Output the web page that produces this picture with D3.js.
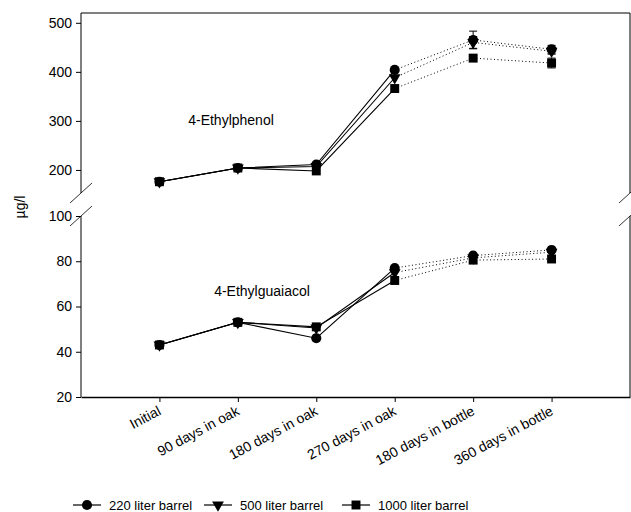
<!DOCTYPE html>
<html>
<head>
<meta charset="utf-8">
<script src="https://cdn.jsdelivr.net/npm/d3@7"></script>
<style>
    body { margin: 0; background: #fff; }
    svg { font-family: "Liberation Sans", Arial, sans-serif; }
    .axis text { font-size: 14px; fill: #000; }
    .axis path, .axis line { stroke: #000; }
</style>
</head>
<body>
<div id="chart"></div>
<script>
// categories on the x axis
const stages = ['Initial', '90 days in oak', '180 days in oak', '270 days in oak', '180 days in bottle', '360 days in bottle'];
const barrels = ['220 liter barrel', '500 liter barrel', '1000 liter barrel'];

// 4-Ethylphenol (µg/l), one array per barrel size
const phenol220 = [176, 204, 211, 404, 465, 446];
const phenol500 = [176, 204, 207, 388, 460, 442];
const phenol1000 = [176, 204, 198, 366, 428, 418];
const phenolErr220 = [0, 0, 0, 0, 18, 8];
const phenolErr500 = [0, 0, 0, 0, 12, 6];
const phenolErr1000 = [0, 0, 0, 0, 6, 10];

// 4-Ethylguaiacol (µg/l)
const guaiacol220 = [43, 53, 46, 77, 82.5, 85];
const guaiacol500 = [43, 53, 50.5, 75, 81.5, 84];
const guaiacol1000 = [43, 53, 51, 71.5, 80.5, 81];

const topTicks = [200, 300, 400, 500];
const bottomTicks = [20, 40, 60, 80, 100];

const width = 631, height = 512;
const left = 81, right = 630;

const svg = d3.select('#chart').append('svg')
    .attr('width', width)
    .attr('height', height);

const xScale = d3.scaleLinear()
    .domain([-1, stages.length])
    .range([left, right]);

// broken y axis: two panels
const yTop = d3.scaleLinear().domain([153, 520]).range([193, 13]);
const yBottom = d3.scaleLinear().domain([20, 100]).range([397, 216]);

const symbols = [d3.symbolCircle, d3.symbolTriangle, d3.symbolSquare];
const symbolSizes = [80, 60, 80];

// frame: top line, sides with gap at the break, bottom axis
svg.append('line').attr('x1', left).attr('x2', right).attr('y1', 13).attr('y2', 13).attr('stroke', '#000');
[left, right].forEach(x => {
    svg.append('line').attr('x1', x).attr('x2', x).attr('y1', 13).attr('y2', 193).attr('stroke', '#000');
    svg.append('line').attr('x1', x).attr('x2', x).attr('y1', 216).attr('y2', 397).attr('stroke', '#000');
    // break marks
    [193, 216].forEach(y => {
        svg.append('line')
            .attr('x1', x - 11).attr('y1', y + 10)
            .attr('x2', x + 11).attr('y2', y - 10)
            .attr('stroke', '#000').attr('stroke-width', 0.8);
    });
});

// y axes
const yAxisTop = d3.axisLeft(yTop).tickValues(topTicks).tickSize(5).tickPadding(4).tickSizeOuter(0);
const yAxisBottom = d3.axisLeft(yBottom).tickValues(bottomTicks).tickSize(5).tickPadding(4).tickSizeOuter(0);

svg.append('g').attr('class', 'axis')
    .attr('transform', `translate(${left},0)`)
    .call(yAxisTop)
    .call(g => g.select('.domain').remove());

svg.append('g').attr('class', 'axis')
    .attr('transform', `translate(${left},0)`)
    .call(yAxisBottom)
    .call(g => g.select('.domain').remove());

// x axis
const xAxis = d3.axisBottom(xScale)
    .tickValues(d3.range(stages.length))
    .tickFormat(i => stages[i])
    .tickSize(5)
    .tickSizeOuter(0);

svg.append('g').attr('class', 'axis')
    .attr('transform', 'translate(0,397)')
    .call(xAxis)
    .call(g => g.select('.domain').attr('stroke-width', 1.5))
    .call(g => g.selectAll('.tick line').attr('stroke', '#666'))
    .selectAll('text')
    .attr('text-anchor', 'end')
    .attr('x', 0)
    .attr('y', 0)
    .attr('dy', 0)
    .attr('transform', 'translate(2,17) rotate(-28)');

// y axis title
svg.append('text')
    .attr('transform', 'translate(25,207) rotate(-90)')
    .attr('text-anchor', 'middle')
    .style('font-size', '14px')
    .text('µg/l');

// panel labels
svg.append('text').attr('x', 231).attr('y', 125).attr('text-anchor', 'middle')
    .style('font-size', '14px').text('4-Ethylphenol');
svg.append('text').attr('x', 262).attr('y', 296).attr('text-anchor', 'middle')
    .style('font-size', '14px').text('4-Ethylguaiacol');

function drawSeries(values, errs, y, k) {
    const pts = values.map((v, i) => ({i: i, v: v, e: errs ? errs[i] : 0}));
    const line = d3.line().x(d => xScale(d.i)).y(d => y(d.v));

    // solid while in oak, dotted once bottled
    svg.append('path')
        .datum(pts.slice(0, 4))
        .attr('d', line)
        .attr('fill', 'none')
        .attr('stroke', '#000')
        .attr('stroke-width', 1.1);
    svg.append('path')
        .datum(pts.slice(3))
        .attr('d', line)
        .attr('fill', 'none')
        .attr('stroke', '#000')
        .attr('stroke-width', 1)
        .attr('stroke-dasharray', '1,2.5');

    // error bars
    svg.append('g').selectAll('line')
        .data(pts.filter(d => d.e > 0))
        .join('line')
        .attr('x1', d => xScale(d.i)).attr('x2', d => xScale(d.i))
        .attr('y1', d => y(d.v - d.e)).attr('y2', d => y(d.v + d.e))
        .attr('stroke', '#000');
    svg.append('g').selectAll('path')
        .data(pts.filter(d => d.e > 0).flatMap(d => [d.v - d.e, d.v + d.e].map(w => ({i: d.i, w: w}))))
        .join('path')
        .attr('d', d => `M${xScale(d.i) - 4},${y(d.w)}h8`)
        .attr('stroke', '#000');

    svg.append('g').selectAll('path')
        .data(pts)
        .join('path')
        .attr('transform', d => `translate(${xScale(d.i)},${y(d.v)})` + (k === 1 ? ' rotate(180)' : ''))
        .attr('d', d3.symbol().type(symbols[k]).size(symbolSizes[k]))
        .attr('fill', '#000');
}

[[phenol1000, phenolErr1000], [phenol500, phenolErr500], [phenol220, phenolErr220]]
    .forEach((s, j) => drawSeries(s[0], s[1], yTop, 2 - j));
[guaiacol1000, guaiacol500, guaiacol220]
    .forEach((s, j) => drawSeries(s, null, yBottom, 2 - j));

// legend
const legendX = [73, 204, 342];
const legend = svg.append('g').selectAll('g')
    .data(barrels)
    .join('g')
    .attr('transform', (d, i) => `translate(${legendX[i]},505)`);

legend.append('line').attr('x1', 0).attr('x2', 28).attr('stroke', '#000').attr('stroke-width', 1.2);
legend.append('path')
    .attr('transform', (d, i) => 'translate(14,0)' + (i === 1 ? ' rotate(180)' : ''))
    .attr('d', (d, i) => d3.symbol().type(symbols[i]).size(symbolSizes[i])());
legend.append('text')
    .attr('x', 36).attr('dy', '0.35em')
    .style('font-size', '13px')
    .text(d => d);
</script>
</body>
</html>
